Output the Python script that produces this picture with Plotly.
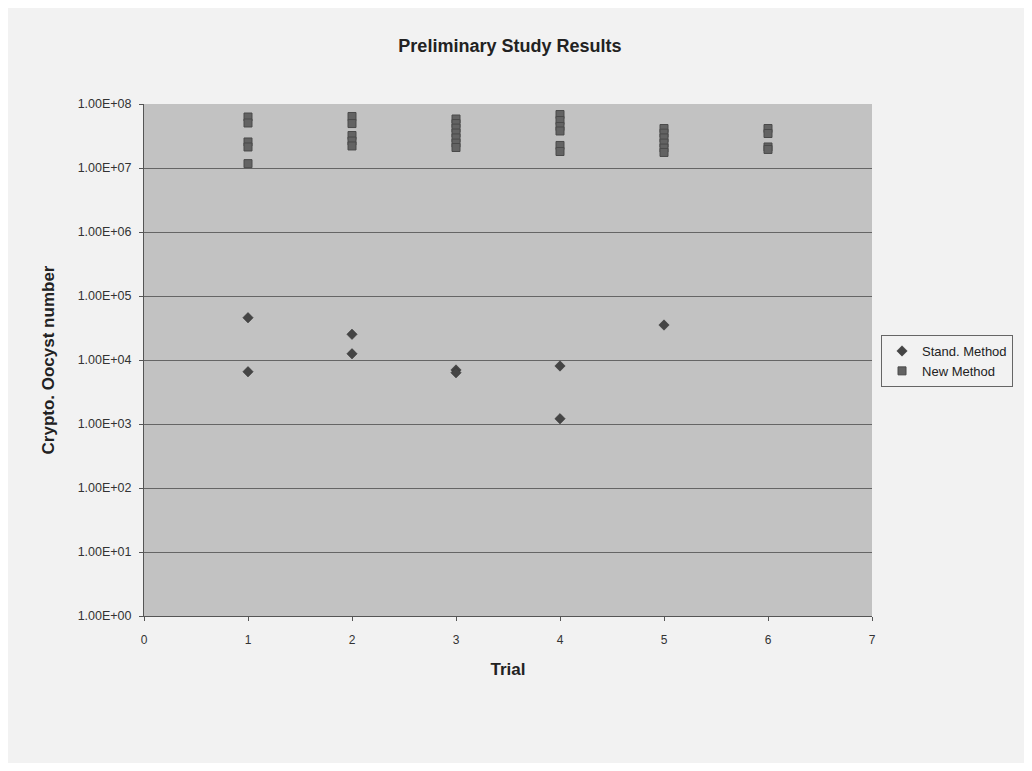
import plotly.graph_objects as go

# Data
std_trial = [1, 1, 2, 2, 3, 3, 4, 4, 5]
std_value = [4.58e4, 6.56e3, 2.52e4, 1.25e4, 6.98e3, 6.33e3, 8.06e3, 1.21e3, 3.52e4]

new_trial = [1, 1, 1, 1, 1,
             2, 2, 2, 2, 2,
             3, 3, 3, 3, 3, 3, 3,
             4, 4, 4, 4, 4, 4,
             5, 5, 5, 5, 5, 5,
             6, 6, 6, 6]
new_value = [6.26e7, 5.05e7, 2.55e7, 2.13e7, 1.17e7,
             6.38e7, 4.95e7, 3.22e7, 2.64e7, 2.21e7,
             5.83e7, 4.95e7, 4.20e7, 3.52e7, 2.95e7, 2.45e7, 2.09e7,
             6.85e7, 5.52e7, 4.45e7, 3.79e7, 2.25e7, 1.81e7,
             4.14e7, 3.50e7, 2.95e7, 2.45e7, 2.05e7, 1.75e7,
             4.14e7, 3.46e7, 2.13e7, 1.95e7]

y_tickvals = [1e0, 1e1, 1e2, 1e3, 1e4, 1e5, 1e6, 1e7, 1e8]
y_ticktext = ["1.00E+00", "1.00E+01", "1.00E+02", "1.00E+03", "1.00E+04",
              "1.00E+05", "1.00E+06", "1.00E+07", "1.00E+08"]
x_tickvals = [0, 1, 2, 3, 4, 5, 6, 7]

FONT = "Liberation Sans, Arial, sans-serif"

fig = go.Figure()
fig.add_trace(go.Scatter(
    x=std_trial, y=std_value, mode="markers", name="Stand. Method",
    marker=dict(symbol="diamond", size=8, color="#454545",
                line=dict(color="#333333", width=0.5)),
))
fig.add_trace(go.Scatter(
    x=new_trial, y=new_value, mode="markers", name="New Method",
    marker=dict(symbol="square", size=8, color="#636363",
                line=dict(color="#4a4a4a", width=1)),
))

fig.update_layout(
    width=1016, height=755,
    margin=dict(l=136, r=151, t=96, b=147),
    paper_bgcolor="#f2f2f2",
    plot_bgcolor="#c2c2c2",
    font=dict(family=FONT, size=12, color="#222222"),
    title=dict(text="<b>Preliminary Study Results</b>", x=0.494, xanchor="center",
               y=0.95, yanchor="middle", font=dict(size=18, color="#222222")),
    showlegend=True,
    legend=dict(x=1.011, xanchor="left", y=0.498, yanchor="middle",
                bgcolor="#f2f2f2", bordercolor="#666666", borderwidth=1,
                font=dict(size=13, color="#222222"),
                itemsizing="trace", itemwidth=30, tracegroupgap=0),
)

fig.update_xaxes(
    range=[0, 7], tickvals=x_tickvals, ticktext=[str(v) for v in x_tickvals],
    showgrid=False, zeroline=False,
    showline=True, linecolor="#555555", linewidth=1,
    ticks="outside", ticklen=4, tickcolor="#555555",
    ticklabelstandoff=9,
    tickfont=dict(size=12, color="#333333"),
    title=dict(text="<b>Trial</b>", font=dict(size=17, color="#222222"), standoff=16),
)
fig.update_yaxes(
    type="log", range=[0, 8], tickvals=y_tickvals, ticktext=y_ticktext,
    showgrid=True, gridcolor="#656565", gridwidth=1,
    showline=True, linecolor="#555555", linewidth=1,
    ticks="outside", ticklen=4, tickcolor="#555555",
    ticklabelstandoff=5,
    tickfont=dict(size=12.5, color="#333333"),
    title=dict(text="<b>Crypto. Oocyst number</b>", font=dict(size=17, color="#222222"), standoff=18),
)

fig.write_html("out.html")
